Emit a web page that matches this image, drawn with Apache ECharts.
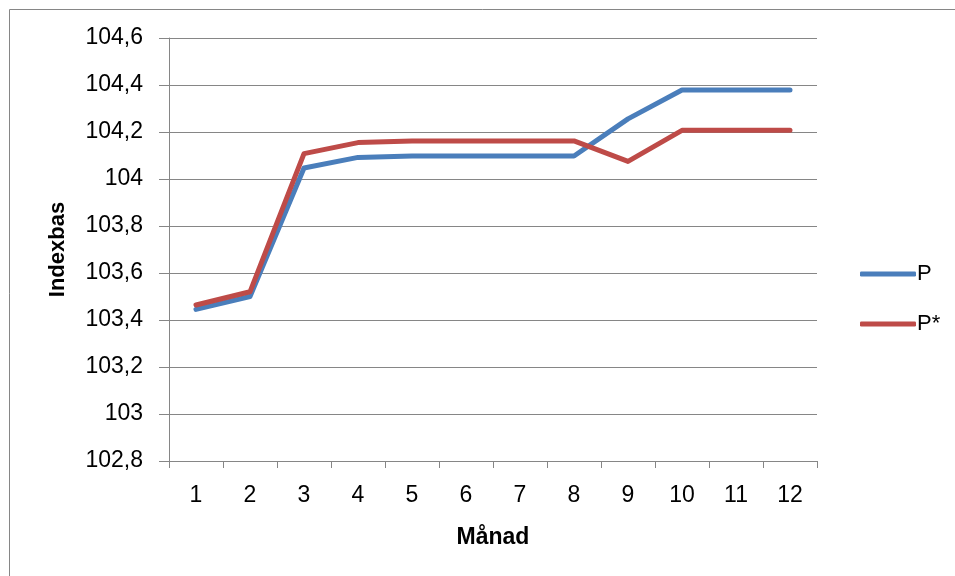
<!DOCTYPE html>
<html><head><meta charset="utf-8">
<script src="https://cdn.jsdelivr.net/npm/echarts@6/dist/echarts.min.js"></script>
<style>html,body{margin:0;padding:0;background:#fff}#c{width:955px;height:576px}</style>
</head><body><div id="c"></div>
<script>
const months = ['1','2','3','4','5','6','7','8','9','10','11','12'];
const P = [103.445, 103.50, 104.047, 104.092, 104.098, 104.098, 104.098, 104.098, 104.256, 104.379, 104.379, 104.379];
const Pstar = [103.464, 103.52, 104.108, 104.155, 104.162, 104.162, 104.162, 104.162, 104.075, 104.207, 104.207, 104.207];
const yMin = 102.8, yMax = 104.6, yStep = 0.2;

const font = 'Liberation Sans, Arial, sans-serif';
const chart = echarts.init(document.getElementById('c'), null, {renderer:'canvas'});
const fmt = v => {
  let s = (Math.round(v*10)/10).toFixed(1);
  if (s.endsWith('.0')) s = s.slice(0,-2);
  return s.replace('.', ',');
};
chart.setOption({
  animation:false,
  backgroundColor:'#fff',
  graphic:[{type:'rect', shape:{x:9.5,y:9.5,width:1200,height:1200}, style:{fill:'none', stroke:'#868686', lineWidth:1}, z:-1}],
  grid:{left:169, right:138, top:38, bottom:115},
  legend:{
    orient:'vertical', left:855, top:258, itemGap:28,
    itemWidth:56, itemHeight:5, icon:'roundRect',
    textStyle:{fontFamily:font, fontSize:22, color:'#000', padding:[0,0,0,-4]},
    data:['P','P*']
  },
  xAxis:{
    type:'category', data:months, boundaryGap:true,
    name:'Månad', nameLocation:'middle', nameGap:65,
    nameTextStyle:{fontFamily:font, fontSize:23, fontWeight:'bold', color:'#000'},
    axisLine:{lineStyle:{color:'#868686', width:1}},
    axisTick:{show:true, alignWithLabel:false, length:7, lineStyle:{color:'#868686'}},
    axisLabel:{fontFamily:font, fontSize:23, color:'#000', margin:23},
    splitLine:{show:false}
  },
  yAxis:{
    type:'value', min:yMin, max:yMax, interval:yStep,
    name:'Indexbas', nameLocation:'middle', nameGap:100, nameRotate:90,
    nameTextStyle:{fontFamily:font, fontSize:22, fontWeight:'bold', color:'#000'},
    axisLine:{show:true, lineStyle:{color:'#868686', width:1}},
    axisTick:{show:true, length:10, lineStyle:{color:'#868686'}},
    axisLabel:{fontFamily:font, fontSize:23, color:'#000', margin:26, formatter:fmt},
    splitLine:{lineStyle:{color:'#868686', width:1}}
  },
  series:[
    {name:'P', type:'line', data:P, symbol:'none', lineStyle:{color:'#4A7EBB', width:5, cap:'round', join:'round'}, itemStyle:{color:'#4A7EBB'}, z:2},
    {name:'P*', type:'line', data:Pstar, symbol:'none', lineStyle:{color:'#BE4B48', width:5, cap:'round', join:'round'}, itemStyle:{color:'#BE4B48'}, z:3}
  ]
});
</script></body></html>
